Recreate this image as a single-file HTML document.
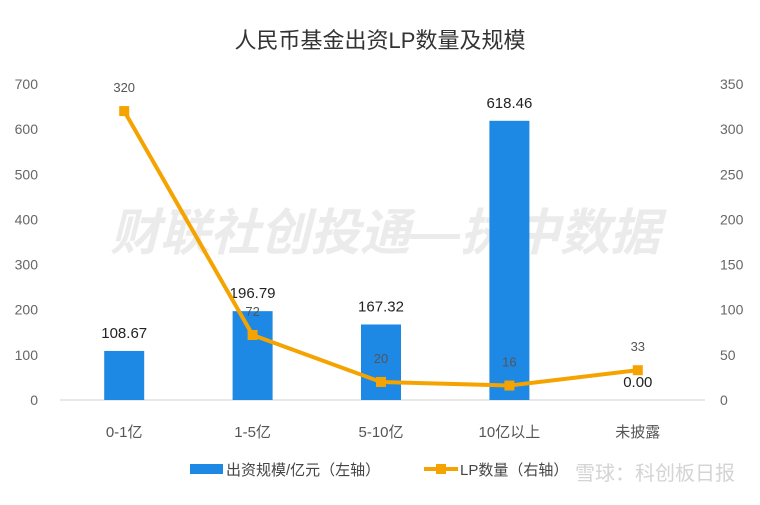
<!DOCTYPE html>
<html><head><meta charset="utf-8">
<style>
body{margin:0;background:#fff;}
svg text{font-family:"Liberation Sans","Noto Sans CJK SC",sans-serif;}
</style></head>
<body>
<svg id="chart" width="760" height="500" xmlns="http://www.w3.org/2000/svg">
<text x="380" y="48" text-anchor="middle" font-size="22" fill="#333">人民币基金出资LP数量及规模</text>
<text x="385" y="250" text-anchor="middle" font-size="50" font-weight="bold" font-style="italic" fill="#e6e6e6" fill-opacity="0.8">财联社创投通—执中数据</text>
<g id="axes"></g>
<g id="bars"></g>
<g id="line"></g>
<g>
<rect x="190" y="464" width="33" height="10" fill="#1e88e5"/>
<text x="226" y="475" font-size="15" fill="#444">出资规模/亿元（左轴）</text>
<line x1="424" y1="469" x2="458" y2="469" stroke="#f5a300" stroke-width="4"/>
<rect x="436" y="464" width="10" height="10" fill="#f5a300"/>
<text x="460" y="475" font-size="15" fill="#444">LP数量（右轴）</text>
</g>
<text x="575" y="480" font-size="20" fill="#ccc" fill-opacity="0.85">雪球：科创板日报</text>
</svg>
<script>
const categories=["0-1亿","1-5亿","5-10亿","10亿以上","未披露"];
const amounts=[108.67,196.79,167.32,618.46,0];
const counts=[320,72,20,16,33];
const leftTicks=[0,100,200,300,400,500,600,700];
const rightTicks=[0,50,100,150,200,250,300,350];
const NS="http://www.w3.org/2000/svg";
const plotL=60,plotR=702,y0=400,yTop=84;
const yL=v=>y0-(v/700)*(y0-yTop);
const yR=v=>y0-(v/350)*(y0-yTop);
const band=(plotR-plotL)/categories.length;
const xC=i=>plotL+band*(i+0.5);
function mk(tag,attrs,parent,txt){const e=document.createElementNS(NS,tag);for(const k in attrs)e.setAttribute(k,attrs[k]);if(txt!==undefined)e.textContent=txt;parent.appendChild(e);return e;}
const axes=document.getElementById('axes'),bars=document.getElementById('bars'),line=document.getElementById('line');
let a=mk('line',{x1:plotL,x2:705,y1:y0,y2:y0,stroke:'#d0d0d0','stroke-width':1},axes);


leftTicks.forEach(v=>{const t=mk('text',{x:38,y:yL(v)+5,'text-anchor':'end','font-size':14,fill:'#666'},axes,v);

});
rightTicks.forEach(v=>{const t=mk('text',{x:720,y:yR(v)+5,'font-size':14,fill:'#666'},axes,v);

});
categories.forEach((c,i)=>{const t=mk('text',{x:xC(i),y:437,'text-anchor':'middle','font-size':15,fill:'#555'},axes,c);

});
amounts.forEach((v,i)=>{const r=mk('rect',{x:xC(i)-20,y:yL(v),width:40,height:y0-yL(v),fill:'#1e88e5'},bars);


const t=mk('text',{x:xC(i),y:yL(v)-13,'text-anchor':'middle','font-size':15,fill:'#222'},bars,v.toFixed(2));

});
const pts=counts.map((v,i)=>xC(i)+','+yR(v)).join(' ');
const pl=mk('polyline',{points:pts,fill:'none',stroke:'#f5a300','stroke-width':4,'stroke-linejoin':'round'},line);


counts.forEach((v,i)=>{const m=mk('rect',{x:xC(i)-5,y:yR(v)-5,width:10,height:10,fill:'#f5a300'},line);


const t=mk('text',{x:xC(i),y:yR(v)-19,'text-anchor':'middle','font-size':13,fill:'#555'},line,v);

});
</script>
</body></html>
